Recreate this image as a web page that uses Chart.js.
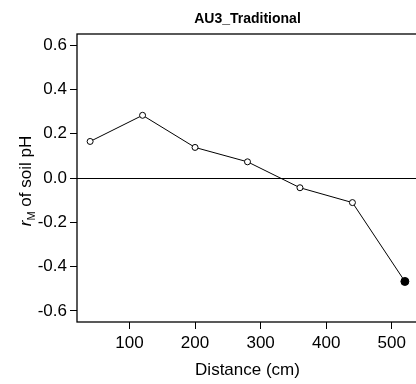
<!DOCTYPE html>
<html>
<head>
<meta charset="utf-8">
<script src="https://cdn.jsdelivr.net/npm/chart.js@4"></script>
<style>
  html, body { margin: 0; padding: 0; background: #fff; overflow: hidden; }
  #wrap { width: 460px; height: 384px; }
</style>
</head>
<body>
<div id="wrap"><canvas id="myChart" width="460" height="384"></canvas></div>
<script>
const distances = [40, 120, 200, 280, 360, 440, 520];
const rM = [0.165, 0.283, 0.138, 0.073, -0.044, -0.111, -0.467];
const significant = [false, false, false, false, false, false, true];
const xTicks = [100, 200, 300, 400, 500];
const yTicks = [-0.6, -0.4, -0.2, 0.0, 0.2, 0.4, 0.6];

const FONT = "'Liberation Sans', Arial, sans-serif";

// frame around the plot area + y axis label with subscript
const framePlugin = {
  id: 'frame',
  afterDraw(chart) {
    const c = chart.ctx;
    const a = chart.chartArea;
    c.save();
    c.strokeStyle = '#000';
    c.lineWidth = 1.3;
    c.strokeRect(a.left, a.top, a.right - a.left, a.bottom - a.top);

    // y label: r_M of soil pH
    const big = '17px ' + FONT;
    const ital = 'italic 17px ' + FONT;
    const small = '11px ' + FONT;
    c.font = ital; const w1 = c.measureText('r').width;
    c.font = small; const w2 = c.measureText('M').width;
    c.font = big; const w3 = c.measureText(' of soil pH').width;
    const total = w1 + w2 + w3;
    c.translate(31, (a.top + a.bottom) / 2 + 3);
    c.rotate(-Math.PI / 2);
    c.fillStyle = '#000';
    c.textBaseline = 'alphabetic';
    c.textAlign = 'left';
    let x = -total / 2;
    c.font = ital; c.fillText('r', x, 0); x += w1;
    c.font = small; c.fillText('M', x, 4); x += w2;
    c.font = big; c.fillText(' of soil pH', x, 0);
    c.restore();
  }
};

new Chart(document.getElementById('myChart'), {
  type: 'scatter',
  data: {
    datasets: [{
      data: distances.map((d, i) => ({ x: d, y: rM[i] })),
      showLine: true,
      borderColor: '#000',
      borderWidth: 1,
      pointRadius: significant.map(s => s ? 4 : 3),
      pointBorderWidth: 1,
      pointBorderColor: '#000',
      pointBackgroundColor: significant.map(s => s ? '#000' : '#fff'),
      tension: 0
    }]
  },
  options: {
    responsive: false,
    animation: false,
    layout: { padding: { left: 0, right: 42, top: 0, bottom: 0 } },
    plugins: {
      legend: { display: false },
      tooltip: { enabled: false },
      title: {
        display: true,
        text: 'AU3_Traditional',
        fullSize: false,
        color: '#000',
        font: { family: FONT, size: 14, weight: 'bold', lineHeight: 1.2 },
        padding: { top: 11, bottom: 6.2 }
      }
    },
    scales: {
      x: {
        type: 'linear',
        min: 20,
        max: 540,
        afterBuildTicks: s => { s.ticks = xTicks.map(v => ({ value: v })); },
        afterFit: s => { s.height = 62; },
        border: { display: false },
        grid: { drawOnChartArea: false, drawTicks: true, tickLength: 7, tickColor: '#000', tickWidth: 1 },
        ticks: { color: '#000', padding: 4, font: { family: FONT, size: 17 } },
        title: {
          display: true,
          text: 'Distance (cm)',
          color: '#000',
          font: { family: FONT, size: 17, lineHeight: 1.2 },
          padding: { top: 0, bottom: 3.8 }
        }
      },
      y: {
        type: 'linear',
        min: -0.65,
        max: 0.65,
        afterBuildTicks: s => { s.ticks = yTicks.map(v => ({ value: v })); },
        afterFit: s => { s.width = 77; },
        border: { display: false },
        grid: {
          drawOnChartArea: true,
          drawTicks: true,
          tickLength: 7,
          tickColor: '#000',
          lineWidth: 1,
          color: ctx => (ctx.tick && ctx.tick.value === 0) ? '#000' : 'rgba(0,0,0,0)'
        },
        ticks: {
          color: '#000',
          padding: 3,
          font: { family: FONT, size: 17 },
          callback: v => v.toFixed(1)
        }
      }
    }
  },
  plugins: [framePlugin]
});
</script>
</body>
</html>
